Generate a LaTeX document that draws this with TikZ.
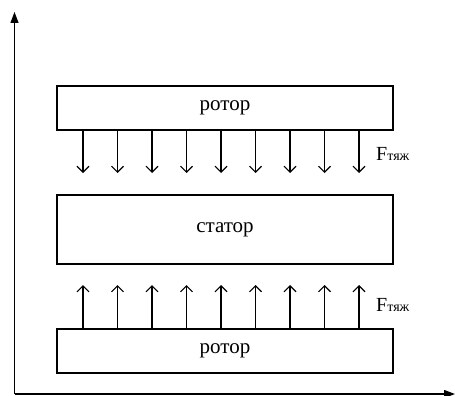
\documentclass[tikz,border=0pt]{standalone}
\usepackage{fontspec}
\setmainfont{Liberation Serif}
\usetikzlibrary{arrows.meta}

\tikzset{
  part/.style={draw, line width=1.6pt, minimum width=336pt, inner sep=0pt,
               font=\fontsize{21}{21}\selectfont},
  force/.style={line width=1.1pt, -{Straight Barb[length=6pt, width=12pt, line width=1.1pt]}},
  axis/.style={line width=1.3pt, -{Triangle[length=11pt, width=8pt]}},
  flabel/.style={anchor=base west, inner sep=0pt}
}
\newcommand{\Ftyazh}{{\fontsize{20}{20}\selectfont F}{\fontsize{14}{14}\selectfont тяж}}

\begin{document}
\begin{tikzpicture}[x=1pt, y=-1pt]
  \useasboundingbox (0,0) rectangle (455,396);

  % coordinate axes
  \coordinate (origin) at (14.5,394);
  \coordinate (ytip) at (14.5,12);
  \coordinate (xtip) at (455,394);
  \draw[axis] (origin) -- (ytip);
  \draw[axis] (origin) -- (xtip);

  % rotor / stator / rotor
  \node[part, minimum height=44pt] (rotorTop) at (225,108) {ротор};
  \node[part, minimum height=69pt] (stator) at (225,229.5) {статор};
  \node[part, minimum height=44pt] (rotorBot) at (225,351) {ротор};

  % attraction forces
  \foreach \i in {0,...,8} {
    \pgfmathsetmacro{\xx}{83+34.5*\i}
    \coordinate (dn\i) at (\xx,173);
    \coordinate (up\i) at (\xx,285);
    \draw[force] (rotorTop.south -| dn\i) -- (dn\i);
    \draw[force] (rotorBot.north -| up\i) -- (up\i);
  }

  \node[flabel] (fTop) at (376,160) {\Ftyazh};
  \node[flabel] (fBot) at (376,311) {\Ftyazh};
\end{tikzpicture}
\end{document}
